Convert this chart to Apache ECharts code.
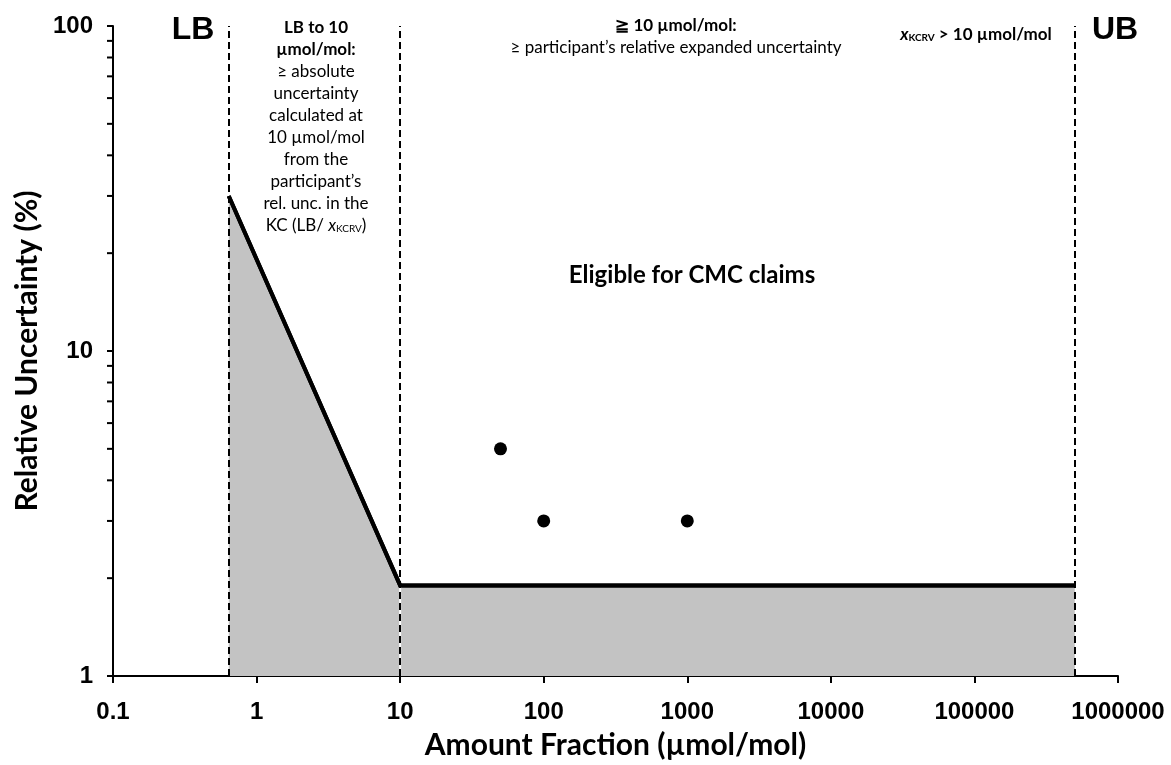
<!DOCTYPE html>
<html>
<head>
<meta charset="utf-8">
<script src="https://cdn.jsdelivr.net/npm/echarts@6/dist/echarts.min.js"></script>
<style>
  html, body { margin: 0; padding: 0; background: #fff; }
  #chart { width: 1171px; height: 765px; }
</style>
</head>
<body>
<div id="chart"></div>
<script>
// Axis tick labels (one per decade)
const xTickLabels = ['0.1', '1', '10', '100', '1000', '10000', '100000', '1000000'];
const yTickLabels = ['1', '10', '100'];
// Minor ticks on the relative-uncertainty axis
const yMinorTicks = [2, 3, 4, 5, 6, 7, 8, 9, 20, 30, 40, 50, 60, 70, 80, 90];

// Lower bound, 10 µmol/mol switch point, upper bound (µmol/mol)
const boundaries = [0.64, 10, 500000];

// Minimum claimable relative uncertainty (%)
const limitX = [0.64, 10, 500000];
const limitY = [30, 1.9, 1.9];

// Participant results
const resultX = [50, 100, 1000];
const resultY = [5, 3, 3];

const X_MIN = 0.1, X_MAX = 1000000, Y_MIN = 1, Y_MAX = 100;

const tickFont = '"Liberation Sans", Arial, sans-serif';
const textFont = 'Lato, "Open Sans", sans-serif';

function decadeLabel(labels, min) {
  return function (v) {
    const i = Math.round(Math.log10(v) - Math.log10(min));
    return labels[i] !== undefined ? labels[i] : '';
  };
}

const chart = echarts.init(document.getElementById('chart'), null, { renderer: 'canvas' });

const dashed = { color: '#000', width: 2, type: [7, 4] };

chart.setOption({
  animation: false,
  backgroundColor: '#fff',
  grid: { left: 113, right: 53, top: 26, bottom: 87, containLabel: false },
  xAxis: {
    type: 'log', logBase: 10, min: X_MIN, max: X_MAX,
    name: 'Amount Fraction (µmol/mol)',
    nameLocation: 'middle', nameGap: 54,
    nameTextStyle: { fontFamily: textFont, fontWeight: 'bold', fontSize: 30, color: '#000' },
    axisLine: { show: true, onZero: false, lineStyle: { color: '#000', width: 2 } },
    axisTick: { show: true, inside: false, length: 7, lineStyle: { color: '#000', width: 2 } },
    minorTick: { show: false },
    splitLine: { show: false },
    axisLabel: {
      formatter: decadeLabel(xTickLabels, X_MIN),
      fontFamily: tickFont, fontWeight: 'bold', fontSize: 24, color: '#000', margin: 24
    }
  },
  yAxis: {
    type: 'log', logBase: 10, min: Y_MIN, max: Y_MAX,
    name: 'Relative Uncertainty (%)',
    nameLocation: 'middle', nameGap: 70, nameRotate: 90,
    nameTextStyle: { fontFamily: textFont, fontWeight: 'bold', fontSize: 30, color: '#000' },
    axisLine: { show: true, onZero: false, lineStyle: { color: '#000', width: 2 } },
    axisTick: { show: true, inside: false, length: 6, lineStyle: { color: '#000', width: 2 } },
    minorTick: { show: false },
    splitLine: { show: false },
    axisLabel: {
      formatter: decadeLabel(yTickLabels, Y_MIN),
      fontFamily: tickFont, fontWeight: 'bold', fontSize: 24, color: '#000', margin: 20
    }
  },
  series: [
    {
      // shaded region below the claimable limit
      type: 'line',
      data: limitX.map((x, i) => [x, limitY[i]]),
      symbol: 'none',
      lineStyle: { color: '#000', width: 4, join: 'miter' },
      areaStyle: { color: '#c3c3c3', opacity: 1, origin: 'start' },
      z: 2, silent: true
    },
    {
      // light gap line under the 10 µmol/mol divider inside the shading
      type: 'line',
      data: [[boundaries[1], Y_MIN], [boundaries[1], limitY[1]]],
      symbol: 'none',
      lineStyle: { color: '#fff', width: 2 },
      z: 3, silent: true
    },
    {
      // region dividers
      type: 'line', data: [], symbol: 'none', z: 4, silent: true,
      markLine: {
        silent: true, symbol: 'none', label: { show: false },
        lineStyle: dashed,
        data: boundaries.map(b => ({ xAxis: b }))
      }
    },
    {
      // redraw the limit line over the dividers
      type: 'line',
      data: limitX.map((x, i) => [x, limitY[i]]),
      symbol: 'none',
      lineStyle: { color: '#000', width: 4, join: 'miter' },
      z: 5, silent: true
    },
    {
      type: 'scatter',
      data: resultX.map((x, i) => [x, resultY[i]]),
      symbol: 'circle', symbolSize: 13,
      itemStyle: { color: '#000', opacity: 1 },
      z: 6, silent: true
    },
    {
      // minor ticks on the log y axis
      type: 'custom',
      data: yMinorTicks.map(v => [X_MIN, v]),
      clip: false, silent: true, z: 6,
      renderItem: function (params, api) {
        const p = api.coord([api.value(0), api.value(1)]);
        return {
          type: 'line',
          shape: { x1: p[0] - 6, y1: p[1], x2: p[0], y2: p[1] },
          style: { stroke: '#000', lineWidth: 2 }
        };
      }
    }
  ],
  graphic: [
    {
      type: 'text', x: 193, y: 30, z: 10,
      style: { text: 'LB', align: 'center', verticalAlign: 'middle', textAlign: 'center', textVerticalAlign: 'middle',
        fontFamily: tickFont, fontWeight: 'bold', fontSize: 32, fill: '#000' }
    },
    {
      type: 'text', x: 1115, y: 30, z: 10,
      style: { text: 'UB', align: 'center', verticalAlign: 'middle', textAlign: 'center', textVerticalAlign: 'middle',
        fontFamily: tickFont, fontWeight: 'bold', fontSize: 32, fill: '#000' }
    },
    {
      type: 'text', x: 316, y: 17, z: 10,
      style: {
        text: '{b|LB to 10}\n{b|µmol/mol:}\n≥ absolute\nuncertainty\ncalculated at\n10 µmol/mol\nfrom the\nparticipant\u2019s\nrel. unc. in the\nKC (LB/ {i|x}{s|KCRV})',
        align: 'center', verticalAlign: 'top', textAlign: 'center', textVerticalAlign: 'top',
        fontFamily: textFont, fontSize: 17, lineHeight: 22, fill: '#000',
        rich: {
          b: { fontFamily: textFont, fontWeight: 'bold', fontSize: 17, lineHeight: 22 },
          i: { fontFamily: textFont, fontStyle: 'italic', fontSize: 17, lineHeight: 22 },
          s: { fontFamily: textFont, fontSize: 10, lineHeight: 22, verticalAlign: 'bottom', padding: [0, 0, 3, 0] }
        }
      }
    },
    {
      type: 'text', x: 676, y: 15, z: 10,
      style: {
        text: '{b|≧ 10 µmol/mol:}\n≥ participant\u2019s relative expanded uncertainty',
        align: 'center', verticalAlign: 'top', textAlign: 'center', textVerticalAlign: 'top',
        fontFamily: textFont, fontSize: 17, lineHeight: 22, fill: '#000',
        rich: { b: { fontFamily: textFont, fontWeight: 'bold', fontSize: 17, lineHeight: 22 } }
      }
    },
    {
      type: 'text', x: 976, y: 35, z: 10,
      style: {
        text: '{i|x}{s|KCRV}{b| > 10 µmol/mol}',
        align: 'center', verticalAlign: 'middle', textAlign: 'center', textVerticalAlign: 'middle',
        fontFamily: textFont, fontSize: 17, fontWeight: 'bold', lineHeight: 22, fill: '#000',
        rich: {
          i: { fontFamily: textFont, fontStyle: 'italic', fontWeight: 'bold', fontSize: 17, lineHeight: 22 },
          s: { fontFamily: textFont, fontWeight: 'bold', fontSize: 10, lineHeight: 22, verticalAlign: 'bottom', padding: [0, 0, 3, 0] },
          b: { fontFamily: textFont, fontWeight: 'bold', fontSize: 17, lineHeight: 22 }
        }
      }
    },
    {
      type: 'text', x: 692, y: 275, z: 10,
      style: { text: 'Eligible for CMC claims', align: 'center', verticalAlign: 'middle', textAlign: 'center', textVerticalAlign: 'middle',
        fontFamily: textFont, fontWeight: 'bold', fontSize: 24, fill: '#000' }
    }
  ]
});
</script>
</body>
</html>
